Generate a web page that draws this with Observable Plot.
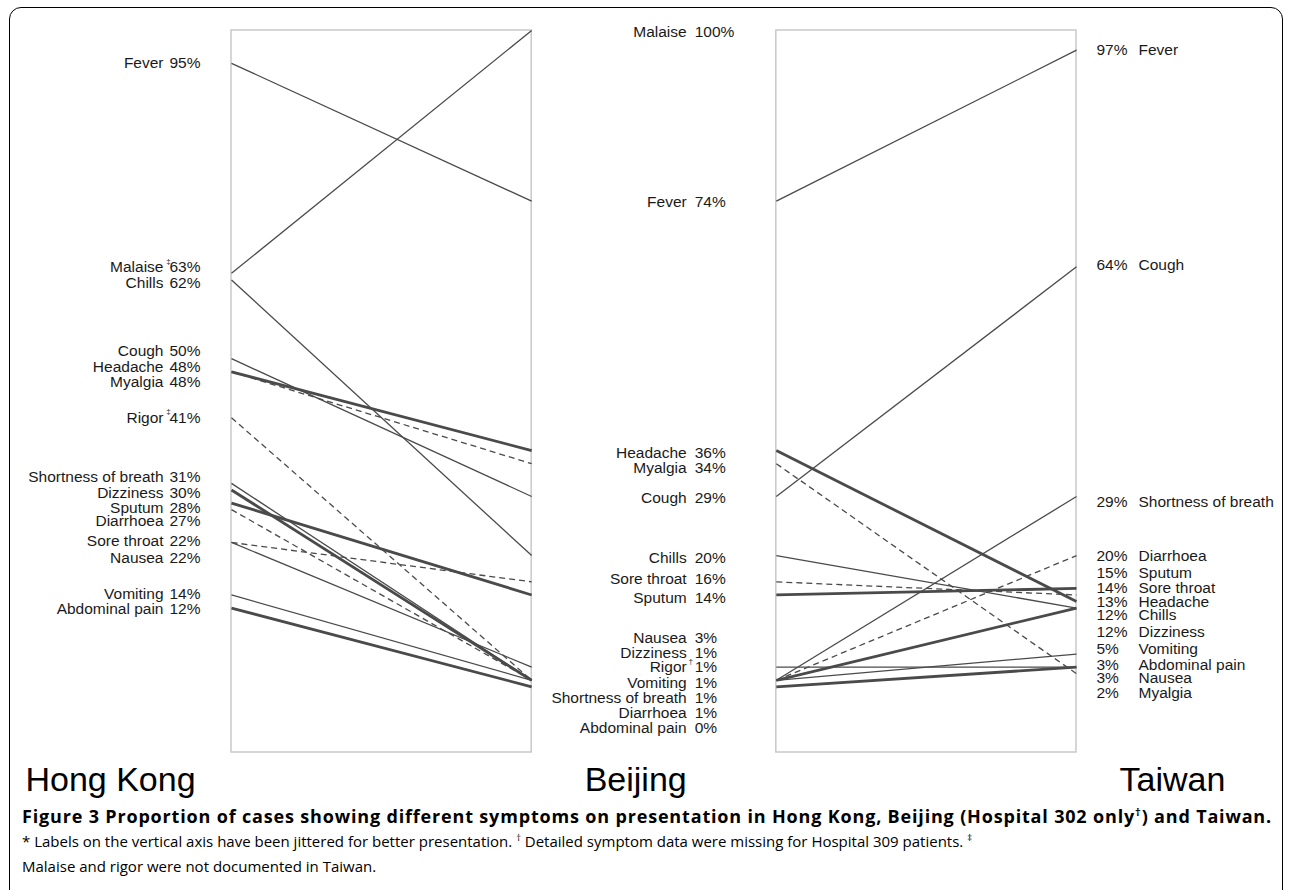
<!DOCTYPE html>
<html><head><meta charset="utf-8">
<script src="https://cdn.jsdelivr.net/npm/d3@7"></script>
<script src="https://cdn.jsdelivr.net/npm/@observablehq/plot@0.6"></script>
<style>
body{margin:0;background:#fff;width:1290px;height:890px;overflow:hidden;position:relative}
#frame{position:absolute;left:9px;top:7px;width:1274px;height:895px;border:1.6px solid #000;border-radius:12px;box-sizing:border-box}
#chart{position:absolute;left:0;top:0}
#caption{position:absolute;left:22px;top:804px;width:1265px;font-family:"Open Sans",sans-serif;color:#000;white-space:nowrap}
#caption .t{font-weight:bold;font-size:18px;letter-spacing:0.83px;line-height:25px}
#caption .n{font-size:15px;line-height:25px}
sup{font-size:62%;line-height:0}
</style></head><body>
<div id="frame"></div>
<div id="chart"></div>
<div id="caption">
<div class="t">Figure 3 Proportion of cases showing different symptoms on presentation in Hong Kong, Beijing (Hospital 302 only<sup>†</sup>) and Taiwan.</div>
<div class="n">* Labels on the vertical axis have been jittered for better presentation. <sup>†</sup> Detailed symptom data were missing for Hospital 309 patients. <sup>‡</sup><br>Malaise and rigor were not documented in Taiwan.</div>
</div>
<script>
// ---- data ----
const symptoms = ["Fever","Malaise","Chills","Cough","Headache","Myalgia","Rigor","Shortness of breath","Dizziness","Sputum","Diarrhoea","Sore throat","Nausea","Vomiting","Abdominal pain"];
const hongKong = [95, 63, 62, 50, 48, 48, 41, 31, 30, 28, 27, 22, 22, 14, 12];
const beijing  = [74, 100, 20, 29, 36, 34, 1, 1, 1, 14, 1, 16, 3, 1, 0];
const taiwan   = [97, null, 12, 64, 13, 2, null, 29, 12, 15, 20, 14, 3, 5, 3];
// jittered label positions (in % units) as printed in the figure
const hongKongLabelAt = [95.1, 63.9, 61.5, 51.2, 48.8, 46.5, 41.0, 31.9, 29.6, 27.2, 25.2, 22.2, 19.7, 14.1, 11.8];
const beijingLabelAt  = [73.8, 99.8, 19.7, 28.8, 35.7, 33.3, 3.0, -1.7, 5.1, 13.6, -4.0, 16.4, 7.4, 0.6, -6.3];
const taiwanLabelAt   = [97.1, null, 10.9, 64.2, 12.9, -0.9, null, 28.1, 8.4, 17.4, 19.9, 15.1, 1.3, 5.8, 3.4];
const hongKongNotes = [{symptom: "Malaise", mark: "‡"}, {symptom: "Rigor", mark: "‡"}];
const beijingNotes  = [{symptom: "Rigor", mark: "†"}];
const siteNames = ["Hong Kong", "Beijing", "Taiwan"];

// ---- layout helpers ----
const xAt = {hk: 0, bjL: 1, bjR: 1.815, tw: 2.815};
const yDomain = [-10, 100];
const thick = new Set(["Headache","Dizziness","Sputum","Abdominal pain"]);
const dashed = new Set(["Myalgia","Rigor","Diarrhoea","Sore throat"]);
const kind = s => thick.has(s) ? "thick" : dashed.has(s) ? "dashed" : "thin";

const rows = symptoms.map((s, i) => ({symptom: s, hk: hongKong[i], bj: beijing[i], tw: taiwan[i],
  hkL: hongKongLabelAt[i], bjL: beijingLabelAt[i], twL: taiwanLabelAt[i]}));
const segs = [
  ...rows.map(r => ({symptom: r.symptom, x1: xAt.hk, y1: r.hk, x2: xAt.bjL, y2: r.bj})),
  ...rows.filter(r => r.tw != null).map(r => ({symptom: r.symptom, x1: xAt.bjR, y1: r.bj, x2: xAt.tw, y2: r.tw}))
];
const panels = [{x1: xAt.hk, x2: xAt.bjL, y1: yDomain[0], y2: yDomain[1]}, {x1: xAt.bjR, x2: xAt.tw, y1: yDomain[0], y2: yDomain[1]}];
const lineColor = "#4a4a4a";
const txt = "#1a1a1a";
const fs = 15.5;
const twRows = rows.filter(r => r.tw != null);
const hkNoteRows = hongKongNotes.map(n => ({...n, y: rows.find(r => r.symptom === n.symptom).hkL}));
const bjNoteRows = beijingNotes.map(n => ({...n, y: rows.find(r => r.symptom === n.symptom).bjL}));
const title = (name, xv, dx) => Plot.text([name], {x: () => xv, y: () => yDomain[0], text: d => d, dx, dy: 28, fontSize: 34, fill: "#000"});

const chart = Plot.plot({
  width: 1290, height: 800,
  margin: 0,
  x: {domain: [0, xAt.tw], range: [231, 1076], axis: null},
  y: {domain: yDomain, range: [752, 30], axis: null},
  style: {fontFamily: "'Liberation Sans', Arial, sans-serif", background: "transparent"},
  marks: [
    Plot.rect(panels, {x1: "x1", x2: "x2", y1: "y1", y2: "y2", fill: "none", stroke: "#c9c9c9", strokeWidth: 1.5}),
    Plot.link(segs.filter(d => kind(d.symptom) === "thin"), {x1: "x1", y1: "y1", x2: "x2", y2: "y2", stroke: lineColor, strokeWidth: 1.3}),
    Plot.link(segs.filter(d => kind(d.symptom) === "dashed"), {x1: "x1", y1: "y1", x2: "x2", y2: "y2", stroke: lineColor, strokeWidth: 1.3, strokeDasharray: "6,4"}),
    Plot.link(segs.filter(d => kind(d.symptom) === "thick"), {x1: "x1", y1: "y1", x2: "x2", y2: "y2", stroke: lineColor, strokeWidth: 2.8}),
    // Hong Kong labels
    Plot.text(rows, {x: () => xAt.hk, y: "hkL", text: d => d.symptom, textAnchor: "end", dx: -68, fontSize: fs, fill: txt}),
    Plot.text(rows, {x: () => xAt.hk, y: "hkL", text: d => `${d.hk}%`, textAnchor: "end", dx: -31, fontSize: fs, fill: txt}),
    Plot.text(hkNoteRows, {x: () => xAt.hk, y: "y", text: "mark", dx: -63, dy: -6, fontSize: 8, fill: txt}),
    // Beijing labels
    Plot.text(rows, {x: () => xAt.bjL, y: "bjL", text: d => d.symptom, textAnchor: "end", dx: 155, fontSize: fs, fill: txt}),
    Plot.text(rows, {x: () => xAt.bjL, y: "bjL", text: d => `${d.bj}%`, textAnchor: "start", dx: 163, fontSize: fs, fill: txt}),
    Plot.text(bjNoteRows, {x: () => xAt.bjL, y: "y", text: "mark", dx: 159, dy: -6, fontSize: 8, fill: txt}),
    // Taiwan labels
    Plot.text(twRows, {x: () => xAt.tw, y: "twL", text: d => `${d.tw}%`, textAnchor: "start", dx: 20, fontSize: fs, fill: txt}),
    Plot.text(twRows, {x: () => xAt.tw, y: "twL", text: d => d.symptom, textAnchor: "start", dx: 62, fontSize: fs, fill: txt}),
    // site titles
    title(siteNames[0], xAt.hk, -121),
    title(siteNames[1], xAt.bjL, 104),
    title(siteNames[2], xAt.tw, 96)
  ]
});
document.getElementById("chart").appendChild(chart);
</script>
</body></html>
